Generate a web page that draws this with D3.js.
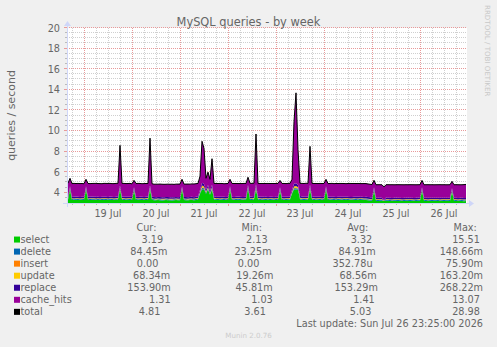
<!DOCTYPE html>
<html>
<head>
<meta charset="utf-8">
<script src="https://cdn.jsdelivr.net/npm/d3@7"></script>
<style>
  html, body { margin: 0; padding: 0; background: #f0f0f0; }
  svg { display: block; font-family: "DejaVu Sans", sans-serif; }
  text { white-space: pre; }
</style>
</head>
<body>
<div id="chart"></div>
<script>
// hourly samples, first one at Jul 18 16:00, last at Jul 26 23:00
const firstSample = new Date(2026, 6, 18, 16, 0);

const select = [
  3.31, 4.30, 3.30, 3.29, 3.32, 3.30, 3.28, 3.31, 3.30, 4.30,
  3.29, 3.30, 3.32, 3.31, 3.29, 3.30, 3.28, 3.30, 3.31, 3.30,
  3.29, 3.32, 3.30, 3.28, 3.31, 3.34, 4.30, 3.33, 3.30, 3.29,
  3.31, 3.30, 3.28, 4.20, 3.30, 3.29, 3.31, 3.30, 3.28, 3.30,
  3.32, 4.30, 3.31, 3.27, 3.26, 3.28, 3.27, 3.25, 3.26, 3.28,
  3.27, 3.26, 3.25, 3.27, 3.28, 3.26, 3.27, 4.30, 3.28, 3.27,
  3.26, 3.28, 3.29, 3.27, 3.30, 3.34, 3.90, 4.30, 4.30, 3.90,
  4.30, 3.80, 4.30, 3.35, 3.31, 3.30, 3.29, 3.31, 3.30, 3.28,
  3.30, 4.30, 3.31, 3.29, 3.30, 3.32, 3.30, 3.28, 3.29, 3.31,
  4.40, 3.32, 3.30, 3.36, 4.30, 3.34, 3.30, 3.29, 3.31, 3.30,
  3.28, 3.30, 3.31, 3.29, 3.30, 3.31, 4.20, 3.30, 3.29, 3.30,
  3.31, 3.33, 3.90, 4.30, 4.30, 4.30, 3.36, 3.32, 3.30, 3.31,
  3.33, 4.30, 3.34, 3.30, 3.29, 3.31, 3.30, 3.28, 3.30, 4.30,
  3.30, 3.29, 3.31, 3.30, 3.28, 3.30, 3.31, 3.29, 3.30, 3.31,
  3.30, 3.28, 3.29, 3.31, 3.30, 3.29, 3.30, 3.31, 3.28, 3.29,
  3.27, 3.25, 3.22, 4.20, 3.21, 3.20, 3.22, 3.21, 3.20, 3.22,
  3.21, 3.20, 3.19, 3.21, 3.22, 3.20, 3.21, 3.19, 3.20, 3.21,
  3.22, 3.20, 3.21, 3.19, 3.20, 3.22, 3.23, 4.20, 3.21, 3.20,
  3.19, 3.21, 3.20, 3.22, 3.21, 3.20, 3.19, 3.21, 3.20, 3.22,
  3.21, 3.20, 4.10, 3.21, 3.20, 3.19, 3.21, 3.20, 3.18, 3.19
];

// milli-queries per second
const deleteM = [
  86, 92, 84, 85, 83, 88, 85, 84, 86, 90,
  85, 84, 83, 86, 85, 87, 84, 85, 86, 84,
  83, 85, 86, 84, 85, 88, 95, 86, 84, 85,
  84, 86, 85, 91, 84, 85, 86, 83, 85, 84,
  86, 97, 85, 84, 83, 85, 86, 84, 85, 83,
  84, 86, 85, 83, 84, 85, 86, 93, 84, 85,
  86, 84, 85, 83, 85, 87, 99, 149, 131, 102,
  118, 96, 112, 88, 85, 84, 86, 85, 83, 84,
  85, 92, 86, 84, 85, 83, 86, 85, 84, 86,
  94, 85, 84, 87, 128, 86, 84, 85, 83, 85,
  86, 84, 85, 83, 86, 85, 91, 84, 86, 85,
  84, 86, 98, 137, 145, 109, 87, 85, 84, 86,
  85, 121, 86, 84, 85, 83, 86, 84, 85, 92,
  84, 85, 86, 83, 85, 84, 86, 85, 84, 83,
  85, 86, 84, 85, 83, 86, 85, 84, 86, 85,
  84, 83, 85, 90, 84, 86, 85, 83, 24, 85,
  86, 84, 85, 83, 84, 86, 85, 84, 83, 85,
  84, 86, 85, 84, 83, 85, 86, 91, 84, 85,
  86, 84, 85, 83, 84, 85, 86, 84, 85, 83,
  84, 85, 89, 84, 86, 85, 83, 84, 85, 84
];

const insertM = [
  0, 0, 0, 0, 0, 0, 0, 0, 0, 0,
  0, 0, 0, 0, 0, 0, 0, 0, 0, 0,
  0, 0, 0, 0, 0, 0, 9, 0, 0, 0,
  0, 0, 0, 0, 0, 0, 0, 0, 0, 0,
  0, 0, 0, 0, 0, 0, 0, 0, 0, 0,
  0, 0, 0, 0, 0, 0, 0, 0, 0, 0,
  0, 0, 0, 0, 0, 0, 0, 76, 31, 0,
  0, 0, 0, 0, 0, 0, 0, 0, 0, 0,
  0, 0, 0, 0, 0, 0, 0, 0, 0, 0,
  0, 0, 0, 0, 18, 0, 0, 0, 0, 0,
  0, 0, 0, 0, 0, 0, 0, 0, 0, 0,
  0, 0, 0, 23, 42, 0, 0, 0, 0, 0,
  0, 6, 0, 0, 0, 0, 0, 0, 0, 0,
  0, 0, 0, 0, 0, 0, 0, 0, 0, 0,
  0, 0, 0, 0, 0, 0, 0, 0, 0, 0,
  0, 0, 0, 0, 0, 0, 0, 0, 0, 0,
  0, 0, 0, 0, 0, 0, 0, 0, 0, 0,
  0, 0, 0, 0, 0, 0, 0, 0, 0, 0,
  0, 0, 0, 0, 0, 0, 0, 0, 0, 0,
  0, 0, 0, 0, 0, 0, 0, 0, 0, 0
];

const updateM = [
  68, 74, 67, 69, 66, 70, 68, 67, 69, 73,
  68, 67, 69, 66, 68, 70, 67, 68, 69, 67,
  66, 68, 70, 67, 68, 69, 96, 68, 67, 69,
  68, 67, 69, 75, 68, 66, 68, 70, 67, 68,
  69, 103, 68, 67, 66, 68, 69, 67, 68, 66,
  67, 69, 68, 66, 67, 68, 69, 77, 67, 68,
  69, 67, 68, 66, 68, 70, 82, 163, 142, 90,
  118, 84, 121, 70, 68, 67, 69, 68, 66, 67,
  68, 76, 69, 67, 68, 66, 69, 68, 67, 69,
  79, 68, 67, 70, 131, 69, 67, 68, 66, 68,
  69, 67, 68, 66, 69, 68, 74, 67, 69, 68,
  67, 69, 88, 152, 160, 115, 70, 68, 67, 69,
  68, 127, 69, 67, 68, 66, 69, 67, 68, 75,
  67, 68, 69, 66, 68, 67, 69, 68, 67, 66,
  68, 69, 67, 68, 66, 69, 68, 67, 69, 68,
  67, 66, 68, 74, 67, 69, 68, 66, 20, 68,
  69, 67, 68, 66, 67, 69, 68, 67, 66, 68,
  67, 69, 68, 67, 66, 68, 69, 75, 67, 68,
  69, 67, 68, 66, 67, 68, 69, 67, 68, 66,
  67, 68, 73, 67, 69, 68, 66, 67, 68, 68
];

const replaceM = [
  154, 162, 152, 153, 151, 155, 153, 152, 154, 160,
  153, 152, 154, 151, 153, 155, 152, 153, 154, 152,
  151, 153, 155, 152, 153, 156, 198, 154, 152, 153,
  152, 154, 153, 163, 152, 153, 154, 151, 153, 152,
  154, 212, 153, 152, 151, 153, 154, 152, 153, 151,
  152, 154, 153, 151, 152, 153, 154, 164, 152, 153,
  154, 152, 153, 151, 153, 156, 181, 268, 247, 190,
  221, 178, 229, 156, 153, 152, 154, 153, 151, 152,
  153, 162, 154, 152, 153, 151, 154, 153, 152, 154,
  167, 153, 152, 155, 236, 154, 152, 153, 151, 153,
  154, 152, 153, 151, 154, 153, 161, 152, 154, 153,
  152, 154, 178, 255, 264, 216, 155, 153, 152, 154,
  153, 231, 154, 152, 153, 151, 154, 152, 153, 162,
  152, 153, 154, 151, 153, 152, 154, 153, 152, 151,
  153, 154, 152, 153, 151, 154, 153, 152, 154, 153,
  152, 151, 153, 161, 152, 154, 153, 151, 46, 153,
  154, 152, 153, 151, 152, 154, 153, 152, 151, 153,
  152, 154, 153, 152, 151, 153, 154, 160, 152, 153,
  154, 152, 153, 151, 152, 153, 154, 152, 153, 151,
  152, 153, 159, 152, 154, 153, 151, 152, 153, 154
];

const cacheHits = [
  1.30, 0.77, 1.28, 1.31, 1.27, 1.29, 1.30, 1.28, 1.26, 0.68,
  1.30, 1.28, 1.27, 1.29, 1.31, 1.28, 1.30, 1.27, 1.29, 1.30,
  1.31, 1.28, 1.27, 1.30, 1.29, 1.26, 3.90, 1.27, 1.30, 1.29,
  1.28, 1.30, 1.27, 0.67, 1.29, 1.31, 1.28, 1.27, 1.30, 1.29,
  1.27, 4.59, 1.26, 1.25, 1.27, 1.24, 1.26, 1.27, 1.25, 1.24,
  1.26, 1.25, 1.27, 1.24, 1.25, 1.27, 1.26, 0.67, 1.25, 1.26,
  1.27, 1.25, 1.26, 1.28, 1.27, 1.25, 1.34, 4.04, 3.45, 1.12,
  1.24, 1.14, 2.54, 1.24, 1.28, 1.29, 1.30, 1.28, 1.27, 1.30,
  1.29, 0.67, 1.28, 1.30, 1.29, 1.27, 1.28, 1.30, 1.31, 1.28,
  0.76, 1.29, 1.30, 1.25, 4.89, 1.26, 1.29, 1.30, 1.28, 1.29,
  1.31, 1.29, 1.28, 1.30, 1.29, 1.28, 0.67, 1.29, 1.30, 1.28,
  1.29, 1.27, 1.04, 6.03, 8.79, 3.46, 1.24, 1.28, 1.29, 1.30,
  1.27, 3.72, 1.26, 1.29, 1.30, 1.28, 1.29, 1.31, 1.29, 0.67,
  1.28, 1.30, 1.29, 1.28, 1.31, 1.29, 1.28, 1.30, 1.29, 1.27,
  1.29, 1.31, 1.30, 1.28, 1.29, 1.30, 1.28, 1.27, 1.30, 1.29,
  1.28, 1.27, 1.27, 0.68, 1.26, 1.27, 1.25, 1.26, 1.27, 1.25,
  1.26, 1.27, 1.28, 1.26, 1.25, 1.27, 1.26, 1.28, 1.27, 1.26,
  1.25, 1.27, 1.26, 1.28, 1.27, 1.25, 1.24, 0.67, 1.26, 1.27,
  1.28, 1.26, 1.27, 1.25, 1.26, 1.27, 1.28, 1.26, 1.27, 1.25,
  1.26, 1.27, 0.68, 1.26, 1.27, 1.28, 1.26, 1.27, 1.30, 1.31
];

const keys = ["select", "delete", "insert", "update", "replace", "cache_hits"];
const legendNames = ["select", "delete", "insert", "update", "replace", "cache_hits", "total"];
const statCur = ["3.19", "84.45m", "0.00", "68.34m", "153.90m", "1.31", "4.81"];
const statMin = ["2.13", "23.25m", "0.00", "19.26m", "45.81m", "1.03", "3.61"];
const statAvg = ["3.32", "84.91m", "352.78u", "68.56m", "153.29m", "1.41", "5.03"];
const statMax = ["15.51", "148.66m", "75.90m", "163.20m", "268.22m", "13.07", "28.98"];
const yTickValues = [4, 6, 8, 10, 12, 14, 16, 18, 20];

const W = 497, H = 347;
const margin = {left: 67, top: 28, width: 400, height: 175};
const fontColor = "#666";

const color = d3.scaleOrdinal()
  .domain(legendNames)
  .range(["#00cc00", "#0066b3", "#ff8000", "#ffcc00", "#330099", "#990099", "#000000"]);

const rows = select.map((v, i) => {
  const r = {
    time: d3.timeHour.offset(firstSample, i),
    select: v,
    delete: deleteM[i] / 1000,
    insert: insertM[i] / 1000,
    update: updateM[i] / 1000,
    replace: replaceM[i] / 1000,
    cache_hits: cacheHits[i]
  };
  r.total = d3.sum(keys, k => r[k]);
  return r;
});

const endTime = new Date(2026, 6, 26, 23, 30);
const startTime = d3.timeHour.offset(endTime, -200);

const x = d3.scaleTime().domain([startTime, endTime]).range([margin.left, margin.left + margin.width]);
const y = d3.scaleLinear().domain([3, 20]).range([margin.top + margin.height, margin.top]);

const svg = d3.select("#chart").append("svg")
  .attr("width", W).attr("height", H);

svg.append("rect").attr("width", W).attr("height", H).attr("fill", "#f0f0f0");
svg.append("rect")
  .attr("x", margin.left).attr("y", margin.top)
  .attr("width", margin.width).attr("height", margin.height)
  .attr("fill", "#fff");

svg.append("clipPath").attr("id", "plotclip")
  .append("rect")
  .attr("x", margin.left).attr("y", margin.top)
  .attr("width", margin.width).attr("height", margin.height);

// grid
const grid = svg.append("g");
const crisp = v => Math.round(v) + 0.5;
const hValues = d3.range(3.5, 20.01, 0.5);
hValues.forEach(v => {
  const major = v % 2 === 0;
  const yy = crisp(y(v)) - 1;
  grid.append("line")
    .attr("x1", margin.left).attr("x2", margin.left + margin.width)
    .attr("y1", yy).attr("y2", yy)
    .attr("stroke", major ? "#e89a9a" : "#cfcfcf")
    .attr("stroke-dasharray", "1,1");
  grid.append("line")
    .attr("x1", margin.left - (major ? 3 : 2)).attr("x2", margin.left)
    .attr("y1", yy).attr("y2", yy)
    .attr("stroke", major ? "#e89a9a" : "#bbb");
});
d3.timeHour.every(6).range(startTime, endTime).forEach(t => {
  const major = t.getHours() === 0;
  const xx = crisp(x(t));
  grid.append("line")
    .attr("x1", xx).attr("x2", xx)
    .attr("y1", margin.top).attr("y2", margin.top + margin.height)
    .attr("stroke", major ? "#e89a9a" : "#cfcfcf")
    .attr("stroke-dasharray", "1,1");
  grid.append("line")
    .attr("x1", xx).attr("x2", xx)
    .attr("y1", margin.top + margin.height).attr("y2", margin.top + margin.height + (major ? 3 : 2))
    .attr("stroke", major ? "#e89a9a" : "#bbb");
});

// stacked areas
const stacked = d3.stack().keys(keys)(rows);
const area = d3.area()
  .x(d => x(d.data.time))
  .y0(d => y(d[0]))
  .y1(d => y(d[1]));

const plot = svg.append("g").attr("clip-path", "url(#plotclip)");
plot.selectAll(".layer")
  .data(stacked)
  .join("path")
  .attr("class", "layer")
  .attr("fill", d => color(d.key))
  .attr("d", area);

plot.append("path")
  .datum(rows)
  .attr("fill", "none")
  .attr("stroke", color("total"))
  .attr("stroke-width", 1)
  .attr("d", d3.line().x(d => x(d.time)).y(d => y(d.total)));

// axes with arrows
const axisColor = "#cfd6f8";
const x0 = margin.left, y0 = margin.top + margin.height;
svg.append("line")
  .attr("x1", x0 - 4).attr("x2", x0 + margin.width + 4)
  .attr("y1", y0 + 0.5).attr("y2", y0 + 0.5)
  .attr("stroke", axisColor);
svg.append("line")
  .attr("x1", x0 + 0.5).attr("x2", x0 + 0.5)
  .attr("y1", y0 + 4).attr("y2", margin.top - 4)
  .attr("stroke", axisColor);
svg.append("path")
  .attr("d", `M${x0 + margin.width + 2},${y0 - 3}L${x0 + margin.width + 2},${y0 + 4}L${x0 + margin.width + 7},${y0 + 0.5}Z`)
  .attr("fill", axisColor);
svg.append("path")
  .attr("d", `M${x0 - 3},${margin.top - 2}L${x0 + 4},${margin.top - 2}L${x0 + 0.5},${margin.top - 7}Z`)
  .attr("fill", axisColor);

// tick labels
svg.append("g")
  .selectAll("text")
  .data(yTickValues)
  .join("text")
  .attr("x", x0 - 7)
  .attr("y", d => y(d) + 3.5)
  .attr("text-anchor", "end")
  .attr("font-size", 9.7)
  .attr("fill", fontColor)
  .text(d => d);

const noonTicks = d3.timeDay.range(d3.timeDay.ceil(startTime), endTime).map(d => d3.timeHour.offset(d, 12))
  .filter(d => d < endTime);
svg.append("g")
  .selectAll("text")
  .data(noonTicks)
  .join("text")
  .attr("x", d => x(d))
  .attr("y", 217)
  .attr("text-anchor", "middle")
  .attr("font-size", 9.7)
  .attr("fill", fontColor)
  .text(d => d3.timeFormat("%d %b")(d));

// titles
svg.append("text")
  .attr("x", W / 2).attr("y", 26)
  .attr("text-anchor", "middle")
  .attr("font-size", 11.4)
  .attr("fill", fontColor)
  .text("MySQL queries - by week");

svg.append("text")
  .attr("transform", `translate(15,${margin.top + margin.height / 2}) rotate(-90)`)
  .attr("text-anchor", "middle")
  .attr("font-size", 11)
  .attr("fill", fontColor)
  .text("queries / second");

svg.append("text")
  .attr("transform", "translate(485,5) rotate(90)")
  .attr("font-size", 7.1)
  .attr("fill", "#c8c8c8")
  .text("RRDTOOL / TOBI OETIKER");

// legend, justified like rrdtool's \j lines
const legend = svg.append("g").attr("font-size", 9.7).attr("fill", fontColor);
const fmt = s => {
  const m = s.match(/^([\d.]+)(\D?)$/);
  return m[1].padStart(6) + (m[2] || " ");
};
function justify(items, left, right, yb) {
  const texts = items.map(s => legend.append("text")
    .attr("xml:space", "preserve")
    .attr("y", yb)
    .text(s));
  const widths = texts.map(t => t.node().getComputedTextLength());
  const gap = (right - left - d3.sum(widths)) / (items.length - 1);
  let pos = left;
  texts.forEach((t, k) => { t.attr("x", pos); pos += widths[k] + gap; });
}

const lineH = 12.05;
const legendTop = 230.5;
const textLeft = 20.5, textRight = 483;
justify([" ".repeat(10), "Cur:", "Min:", "Avg:", "Max:  "], textLeft, textRight, legendTop);

legendNames.forEach((name, i) => {
  const yb = legendTop + lineH * (i + 1);
  legend.append("rect")
    .attr("x", 14).attr("y", yb - 6)
    .attr("width", 6).attr("height", 6)
    .attr("fill", color(name));
  justify([name.padEnd(10), fmt(statCur[i]), fmt(statMin[i]), fmt(statAvg[i]), fmt(statMax[i])],
    textLeft, textRight, yb);
});

legend.append("text")
  .attr("x", textRight).attr("y", legendTop + lineH * 8)
  .attr("text-anchor", "end")
  .text("Last update: Sun Jul 26 23:25:00 2026");

svg.append("text")
  .attr("x", W / 2).attr("y", 338)
  .attr("text-anchor", "middle")
  .attr("font-size", 7.1)
  .attr("fill", "#cccccc")
  .text("Munin 2.0.76");
</script>
</body>
</html>
